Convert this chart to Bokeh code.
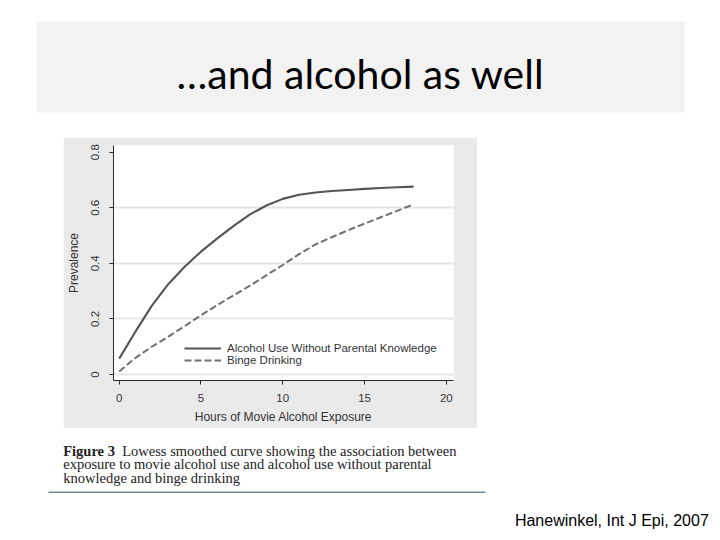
from bokeh.plotting import figure
from bokeh.layouts import column, row
from bokeh.models import Range1d, FixedTicker, Legend, LegendItem, Spacer
from bokeh.core.properties import value
from bokeh.embed import file_html
from bokeh.resources import INLINE

# ---------------- data ----------------
hours = [0, 1, 2, 3, 4, 5, 6, 7, 8, 9, 10, 11, 12, 13, 14, 15, 16, 17, 18]
alcohol_without_parental_knowledge = [0.057, 0.155, 0.248, 0.325, 0.388, 0.442, 0.490, 0.535,
                                      0.576, 0.608, 0.632, 0.647, 0.655, 0.660, 0.664, 0.668,
                                      0.671, 0.674, 0.676]
binge_drinking = [0.011, 0.060, 0.100, 0.136, 0.174, 0.213, 0.250, 0.285, 0.320, 0.357,
                  0.394, 0.433, 0.468, 0.494, 0.519, 0.543, 0.566, 0.589, 0.612]
series_names = ["Alcohol Use Without Parental Knowledge", "Binge Drinking"]

x_ticks = [0, 5, 10, 15, 20]
x_tick_labels = ["0", "5", "10", "15", "20"]
y_ticks = [0, 0.2, 0.4, 0.6, 0.8]
y_tick_labels = ["0", "0.2", "0.4", "0.6", "0.8"]
y_grid_ticks = [0, 0.2, 0.4, 0.6]

x_title = "Hours of Movie Alcohol Exposure"
y_title = "Prevalence"
slide_title = ["\u2026and alcohol as well"]
caption_bold = ["Figure 3"]
caption_lines = ["Lowess smoothed curve showing the association between",
                 "exposure to movie alcohol use and alcohol use without parental",
                 "knowledge and binge drinking"]
citation = ["Hanewinkel, Int J Epi, 2007"]

W = 720
TOP_H, MID_H, BOT_H = 137, 291, 112


def blank(height, y0):
    f = figure(width=W, height=height, output_backend="svg", toolbar_location=None,
               x_range=Range1d(0, W), y_range=Range1d(y0 + height, y0),
               x_axis_type=None, y_axis_type=None, min_border=0,
               border_fill_color="white", background_fill_color="white",
               outline_line_color=None)
    f.grid.visible = False
    return f


# ---------------- slide title ----------------
top = blank(TOP_H, 0)
top.quad(left=[36], right=[684], top=[21], bottom=[112], fill_color="#f2f2f2", line_color=None)
top.text(x=[360], y=[73], text=slide_title, text_align="center", text_baseline="alphabetic",
         text_font=value("Lato"), text_font_size="41px", text_color="#000000")

# ---------------- chart ----------------
p = figure(width=414, height=MID_H, output_backend="svg", toolbar_location=None,
           x_range=Range1d(-0.348, 20.44), y_range=Range1d(-0.0216, 0.824),
           min_border_left=49, min_border_right=24, min_border_top=8, min_border_bottom=48,
           border_fill_color="#eaeaea", background_fill_color="white", outline_line_color=None)

r1 = p.line(hours, alcohol_without_parental_knowledge, line_color="#555555", line_width=2.1)
r2 = p.line(hours, binge_drinking, line_color="#707070", line_width=2, line_dash="7 3")

for ax in (p.xaxis[0], p.yaxis[0]):
    ax.axis_line_color = "#2a2a2a"
    ax.major_tick_line_color = "#2a2a2a"
    ax.minor_tick_line_color = None
    ax.major_tick_in = 0
    ax.major_tick_out = 4
    ax.major_label_text_font = "Liberation Sans"
    ax.major_label_text_font_size = "11.5px"
    ax.major_label_text_color = "#333333"
    ax.axis_label_text_font = "Liberation Sans"
    ax.axis_label_text_font_size = "12px"
    ax.axis_label_text_font_style = "normal"
    ax.axis_label_text_color = "#333333"

p.xaxis.ticker = FixedTicker(ticks=x_ticks)
p.xaxis.major_label_overrides = dict(zip(x_ticks, x_tick_labels))
p.xaxis.axis_label = x_title
p.xaxis.major_label_standoff = 9
p.xaxis.axis_label_standoff = 5

p.yaxis.ticker = FixedTicker(ticks=y_ticks)
p.yaxis.major_label_overrides = dict(zip(y_ticks, y_tick_labels))
p.yaxis.major_label_orientation = "vertical"
p.yaxis.axis_label = y_title
p.yaxis.major_label_standoff = 10
p.yaxis.axis_label_standoff = 8

p.xgrid.visible = False
p.ygrid.ticker = FixedTicker(ticks=y_grid_ticks)
p.ygrid.grid_line_color = "#e6e6e6"
p.ygrid.grid_line_width = 2

legend = Legend(items=[LegendItem(label=series_names[0], renderers=[r1]),
                       LegendItem(label=series_names[1], renderers=[r2])],
                location=(71, 14), border_line_color=None, background_fill_alpha=0,
                padding=0, margin=0, spacing=0, glyph_width=37, glyph_height=12,
                label_height=12, label_standoff=6, label_text_font="Liberation Sans",
                label_text_font_size="11.5px", label_text_color="#333333")
p.add_layout(legend)

middle = row(Spacer(width=63, height=MID_H), p, Spacer(width=W - 63 - 414, height=MID_H))

# ---------------- caption + citation ----------------
bot = blank(BOT_H, TOP_H + MID_H)
bot.quad(left=[48], right=[485], top=[491], bottom=[492.5], fill_color="#7b8a99", line_color=None)
bot.text(x=[62.7], y=[450.5], text=caption_bold, text_align="left", text_baseline="alphabetic",
         text_font=value("Liberation Serif"), text_font_style="bold", text_font_size="14.5px",
         text_color="#222222")
bot.text(x=[121.7, 62.7, 62.7], y=[450.5, 463.8, 477.2], text=caption_lines, text_align="left",
         text_baseline="alphabetic", text_font=value("Liberation Serif"), text_font_size="14.5px",
         text_color="#222222")
bot.text(x=[708.3], y=[520.3], text=citation, text_align="right", text_baseline="alphabetic",
         text_font=value("Liberation Sans"), text_font_size="16px", text_color="#000000")

layout = column(top, middle, bot, spacing=0)
open("out.html", "w").write(file_html(layout, INLINE))
